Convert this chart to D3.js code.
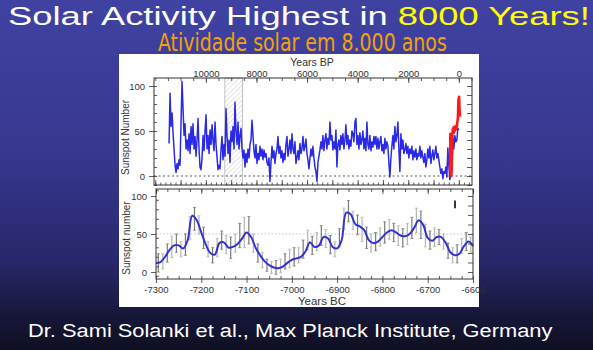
<!DOCTYPE html>
<html><head><meta charset="utf-8">
<script src="https://cdn.jsdelivr.net/npm/d3@7"></script>
<style>html,body{margin:0;padding:0;background:#111}svg{display:block}</style>
</head><body>
<svg id="c" width="593" height="350"></svg>
<script>
// ---------- DATA ----------
const titleWhite = "Solar Activity Highest in ";
const titleYellow = "8000 Years!";
const subtitle = "Atividade solar em 8.000 anos";
const footer = "Dr. Sami Solanki et al., Max Planck Institute, Germany";

// Top panel: reconstructed sunspot number, evenly sampled from 11455 BP to 0 BP
const topStartBP = 11455, topEndBP = 0;
const topValues = [
 36,92,55,70,48,30,12,4,14,8,18,12,
 60,105,75,45,58,30,40,28,47,25,
 55,35,58,30,44,22,40,64,30,10,
 7,20,45,28,50,68,30,45,25,51,
 35,57,40,28,60,35,21,7,12,8,
 30,44,18,35,22,75,45,25,40,15,
 50,38,55,30,82,50,35,60,30,45,
 53,30,20,29,10,25,15,30,20,35,
 40,62,45,28,20,35,14,25,18,33,
 22,30,18,29,21,25,15,12,20,-6,
 15,33,20,28,14,25,30,44,25,33,
 20,28,15,25,18,35,44,22,30,40,
 25,47,30,25,38,14,20,28,18,36,
 25,30,44,28,33,41,25,18,8,20,
 30,22,33,20,10,5,-6,15,22,29,
 38,30,45,28,40,47,30,42,35,60,
 40,45,29,38,30,51,10,35,40,29,
 45,35,47,30,40,57,35,45,30,40,
 33,50,47,38,60,64,35,45,30,48,
 35,40,50,30,42,28,60,35,30,45,
 28,38,32,44,35,44,30,
 42,30,38,44,28,35,25,42,30,38,33,15,-1,
 20,33,45,30,55,38,45,60,30,5,
 47,30,40,25,29,36,25,33,20,30,
 25,33,18,28,21,30,18,25,22,33,
 20,28,21,15,25,10,18,30,20,33,
 14,22,29,18,25,33,20,25,18,10,
 3,8,-3,5,3,10,-1,31,12,-4,
 2,7,42,30,45,38,40,53,51
];
// Telescopic (group) sunspot number, red
const redYearsBP = [345,338,330,320,310,300,290,280,270,260,250,240,225,210,195,180,165,150,135,120,105,90,75,60,45,30,20,10,0,-10,-20,-30,-40,-50];
const redValues  = [5,47,22,6,2,0,4,12,25,40,48,52,50,54,48,53,50,55,52,54,52,56,55,60,62,70,82,86,84,88,80,72,68,66];
const hatchBP = [9250, 8550];
const topXTicks = [10000, 8000, 6000, 4000, 2000, 0];
const topYTicks = [0, 50, 100];

// Bottom panel: zoom on 7300-6600 BC
const lineYears = [-7300,-7290,-7280,-7270,-7260,-7250,-7240,-7230,-7220,-7210,-7200,-7190,-7180,-7170,-7160,-7150,-7140,-7130,-7120,-7110,-7100,-7090,-7080,-7070,-7060,-7050,-7040,-7030,-7020,-7010,-7000,-6990,-6980,-6970,-6960,-6950,-6940,-6930,-6920,-6910,-6900,-6890,-6880,-6870,-6860,-6850,-6840,-6830,-6820,-6810,-6800,-6790,-6780,-6770,-6760,-6750,-6740,-6730,-6720,-6710,-6700,-6690,-6680,-6670,-6660,-6650,-6640,-6630,-6620,-6610,-6600];
const lineValues = [12,13,20,29,35,35,31,42,74,68,52,36,25,23,38,39,32,33,37,44,52,46,32,22,14,9,6,5,7,12,16,18,20,27,39,33,35,46,44,33,31,42,78,76,63,60,55,42,38,40,46,52,55,52,48,47,50,58,68,62,45,41,46,46,38,26,22,24,34,40,34];
const barYears = [-7295,-7285,-7275,-7265,-7255,-7245,-7235,-7225,-7215,-7205,-7195,-7185,-7175,-7165,-7155,-7145,-7135,-7125,-7115,-7105,-7095,-7085,-7075,-7065,-7055,-7045,-7035,-7025,-7015,-7005,-6995,-6985,-6975,-6965,-6955,-6945,-6935,-6925,-6915,-6905,-6895,-6885,-6875,-6865,-6855,-6845,-6835,-6825,-6815,-6805,-6795,-6785,-6775,-6765,-6755,-6745,-6735,-6725,-6715,-6705,-6695,-6685,-6675,-6665,-6655,-6645,-6635,-6625,-6615,-6605];
const barMid  = [12,14,25,33,38,30,36,58,70,62,45,30,22,32,42,36,32,38,48,52,55,38,25,16,9,6,6,8,14,18,20,22,30,42,35,40,48,44,36,30,45,70,80,68,62,56,45,38,40,46,52,56,52,48,45,50,58,68,62,48,42,46,46,40,28,22,24,34,40,36];
const barHalf = [12,10,12,14,12,10,14,15,15,12,14,10,10,12,12,12,14,12,16,20,18,12,12,10,8,8,9,9,10,12,12,10,12,13,12,12,13,12,12,10,12,14,14,12,13,16,14,12,12,12,14,13,12,13,12,14,14,16,18,15,12,12,10,10,10,10,12,10,12,10];
const botXTicks = [-7300,-7200,-7100,-7000,-6900,-6800,-6700,-6600];
const botYTicks = [0, 50, 100];

// ---------- DRAWING ----------
const svg = d3.select("#c");
const defs = svg.append("defs");
const bg = defs.append("linearGradient").attr("id","bg").attr("x1",0).attr("y1",0).attr("x2",0).attr("y2",1);
[[0,"#4042a2"],[0.45,"#37378f"],[0.75,"#27276a"],[0.9,"#17173a"],[1,"#0f0f22"]].forEach(s=>bg.append("stop").attr("offset",s[0]).attr("stop-color",s[1]));
svg.append("rect").attr("width",593).attr("height",350).attr("fill","url(#bg)");

const pat = defs.append("pattern").attr("id","hatch").attr("patternUnits","userSpaceOnUse").attr("width",3.5).attr("height",3.5).attr("patternTransform","rotate(45)");
pat.append("line").attr("x1",0).attr("y1",0).attr("x2",0).attr("y2",3.5).attr("stroke","#c4c4c4").attr("stroke-width",0.9);

function fitText(sel, x0, x1) {
  const w = sel.node().getBBox().width;
  const s = (x1 - x0) / w;
  sel.attr("x", 0).attr("transform", `translate(${x0},0) scale(${s},1)`);
}

// Title
const t = svg.append("text").attr("y",25).attr("font-family","Liberation Sans, Arial, sans-serif").attr("font-size",26);
t.append("tspan").attr("fill","#ffffff").text(titleWhite);
t.append("tspan").attr("fill","#ffff00").text(titleYellow);
t.attr("xml:space","preserve").style("white-space","pre");
fitText(t, 8, 590);

const st = svg.append("text").attr("y",51.5).attr("fill","#f2a20a")
  .attr("font-family","Liberation Sans Narrow, DejaVu Sans Condensed, sans-serif").attr("font-size",25).text(subtitle);
fitText(st, 158, 447);

// White panel
svg.append("rect").attr("x",119).attr("y",54).attr("width",360).attr("height",253).attr("fill","#ffffff");

const fontF = "Liberation Sans, Arial, sans-serif";
const ink = "#333";

function styleAxis(g){
  g.select(".domain").remove();
  g.selectAll("line").attr("stroke",ink).attr("stroke-width",0.8);
  g.selectAll("text").attr("fill",ink).attr("font-family",fontF).attr("font-size",9.5);
}

// ---- Top panel ----
const TL=154, TR=472, TT=78, TB=185;
const xT = d3.scaleLinear().domain([12050,-520]).range([TL,TR]);
const yT = d3.scaleLinear().domain([-10,108.9]).range([TB,TT]);

// hatched box
svg.append("rect").attr("x",xT(hatchBP[0])).attr("y",TT).attr("width",xT(hatchBP[1])-xT(hatchBP[0])).attr("height",TB-TT)
  .attr("fill","url(#hatch)").attr("stroke","#aaa").attr("stroke-width",0.7);

// zero dotted line
svg.append("line").attr("x1",TL).attr("x2",TR).attr("y1",yT(0)).attr("y2",yT(0))
  .attr("stroke","#444").attr("stroke-width",0.9).attr("stroke-dasharray","2,2.5");

const topStep = (topStartBP - topEndBP)/(topValues.length-1);
const topData = topValues.map((v,i)=>[topStartBP - i*topStep, v]);
svg.append("path").datum(topData).attr("fill","none").attr("stroke","#2a2ae6").attr("stroke-width",1.5)
  .attr("stroke-linejoin","round")
  .attr("d", d3.line().x(d=>xT(d[0])).y(d=>yT(d[1])));
svg.append("path").datum(redYearsBP.map((y,i)=>[y,redValues[i]])).attr("fill","none").attr("stroke","#ff1a1a").attr("stroke-width",2.6)
  .attr("stroke-linejoin","round")
  .attr("d", d3.line().x(d=>xT(d[0])).y(d=>yT(d[1])));

// frame
svg.append("rect").attr("x",TL).attr("y",TT).attr("width",TR-TL).attr("height",TB-TT).attr("fill","none").attr("stroke",ink).attr("stroke-width",1);

const fmt = d => String(d);
// axes top panel
svg.append("g").attr("transform",`translate(${TL},0)`).call(d3.axisLeft(yT).tickValues(topYTicks).tickSize(5).tickPadding(4).tickFormat(fmt)).call(styleAxis);
svg.append("g").attr("transform",`translate(${TL},0)`).call(d3.axisRight(yT).tickValues(d3.range(-10,109,10)).tickSize(3).tickFormat("")).call(styleAxis);
svg.append("g").attr("transform",`translate(${TR},0)`).call(d3.axisLeft(yT).tickValues(d3.range(-10,109,10)).tickSize(5).tickFormat("")).call(styleAxis);
svg.append("g").attr("transform",`translate(0,${TT})`).call(d3.axisTop(xT).tickValues(topXTicks).tickSize(0).tickPadding(1).tickFormat(fmt)).call(styleAxis);
svg.append("g").attr("transform",`translate(0,${TT})`).call(d3.axisBottom(xT).tickValues(d3.range(12000,-501,-500)).tickSize(3).tickFormat("")).call(styleAxis);
svg.append("g").attr("transform",`translate(0,${TT})`).call(d3.axisBottom(xT).tickValues(topXTicks).tickSize(5).tickFormat("")).call(styleAxis);
svg.append("g").attr("transform",`translate(0,${TB})`).call(d3.axisTop(xT).tickValues(d3.range(12000,-501,-200)).tickSize(2.5).tickFormat("")).call(styleAxis);
svg.append("g").attr("transform",`translate(0,${TB})`).call(d3.axisTop(xT).tickValues(d3.range(12000,-501,-1000)).tickSize(5).tickFormat("")).call(styleAxis);

svg.append("text").attr("x",312).attr("y",66).attr("text-anchor","middle").attr("fill",ink).attr("font-family",fontF).attr("font-size",10.5).text("Years BP");
svg.append("text").attr("transform",`translate(129,${(TT+TB)/2+6}) rotate(-90)`).attr("text-anchor","middle").attr("fill",ink).attr("font-family",fontF).attr("font-size",10).text("Sunspot Number");

// ---- Bottom panel ----
const BL=156, BR=473, BT=189, BB=279;
const xB = d3.scaleLinear().domain([-7300,-6600]).range([BL,BR]);
const yB = d3.scaleLinear().domain([-9.2,109.2]).range([BB,BT]);

svg.append("line").attr("x1",BL).attr("x2",BR).attr("y1",yB(50)).attr("y2",yB(50))
  .attr("stroke","#bbb").attr("stroke-width",0.9).attr("stroke-dasharray","1.5,2");

// error bars
const bars = svg.append("g");
barYears.forEach((yr,i)=>{
  const col = i%2===0 ? "#7a7a7a" : "#b5b5b5";
  const x = xB(yr), y1 = yB(barMid[i]-barHalf[i]), y2 = yB(barMid[i]+barHalf[i]);
  bars.append("line").attr("x1",x).attr("x2",x).attr("y1",y1).attr("y2",y2).attr("stroke",col).attr("stroke-width",1.2);
  bars.append("line").attr("x1",x-1.5).attr("x2",x+1.5).attr("y1",y1).attr("y2",y1).attr("stroke",col).attr("stroke-width",0.8);
  bars.append("line").attr("x1",x-1.5).attr("x2",x+1.5).attr("y1",y2).attr("y2",y2).attr("stroke",col).attr("stroke-width",0.8);
});

svg.append("path").datum(lineYears.map((y,i)=>[y,lineValues[i]])).attr("fill","none").attr("stroke","#3232d2").attr("stroke-width",2)
  .attr("d", d3.line().curve(d3.curveCatmullRom.alpha(0.5)).x(d=>xB(d[0])).y(d=>yB(d[1])));

// representative error bar
svg.append("line").attr("x1",455).attr("x2",455).attr("y1",yB(94)).attr("y2",yB(84)).attr("stroke","#222").attr("stroke-width",1.8);

svg.append("rect").attr("x",BL).attr("y",BT).attr("width",BR-BL).attr("height",BB-BT).attr("fill","none").attr("stroke",ink).attr("stroke-width",1);

svg.append("g").attr("transform",`translate(${BL},0)`).call(d3.axisLeft(yB).tickValues(botYTicks).tickSize(5).tickPadding(4).tickFormat(fmt)).call(styleAxis);
svg.append("g").attr("transform",`translate(${BL},0)`).call(d3.axisRight(yB).tickValues(d3.range(-5,109,12.5)).tickSize(3).tickFormat("")).call(styleAxis);
svg.append("g").attr("transform",`translate(${BR},0)`).call(d3.axisLeft(yB).tickValues(d3.range(0,109,12.5)).tickSize(5).tickFormat("")).call(styleAxis);
svg.append("g").attr("transform",`translate(0,${BT})`).call(d3.axisBottom(xB).tickValues(d3.range(-7300,-6599,25)).tickSize(3).tickFormat("")).call(styleAxis);
svg.append("g").attr("transform",`translate(0,${BT})`).call(d3.axisBottom(xB).tickValues(botXTicks).tickSize(5).tickFormat("")).call(styleAxis);
svg.append("g").attr("transform",`translate(0,${BB})`).call(d3.axisTop(xB).tickValues(d3.range(-7300,-6599,25)).tickSize(3).tickFormat("")).call(styleAxis);
svg.append("g").attr("transform",`translate(0,${BB})`).call(d3.axisBottom(xB).tickValues(botXTicks).tickSize(4).tickPadding(3).tickFormat(fmt)).call(styleAxis);

svg.append("text").attr("x",322).attr("y",305).attr("text-anchor","middle").attr("fill",ink).attr("font-family",fontF).attr("font-size",11.5).text("Years BC");
svg.append("text").attr("transform",`translate(130,${(BT+BB)/2+4}) rotate(-90)`).attr("text-anchor","middle").attr("fill",ink).attr("font-family",fontF).attr("font-size",10).text("Sunspot number");

// Footer
const ft = svg.append("text").attr("y",337).attr("fill","#ffffff").attr("font-family",fontF).attr("font-size",19).text(footer);
fitText(ft, 28, 553);
</script></body></html>
